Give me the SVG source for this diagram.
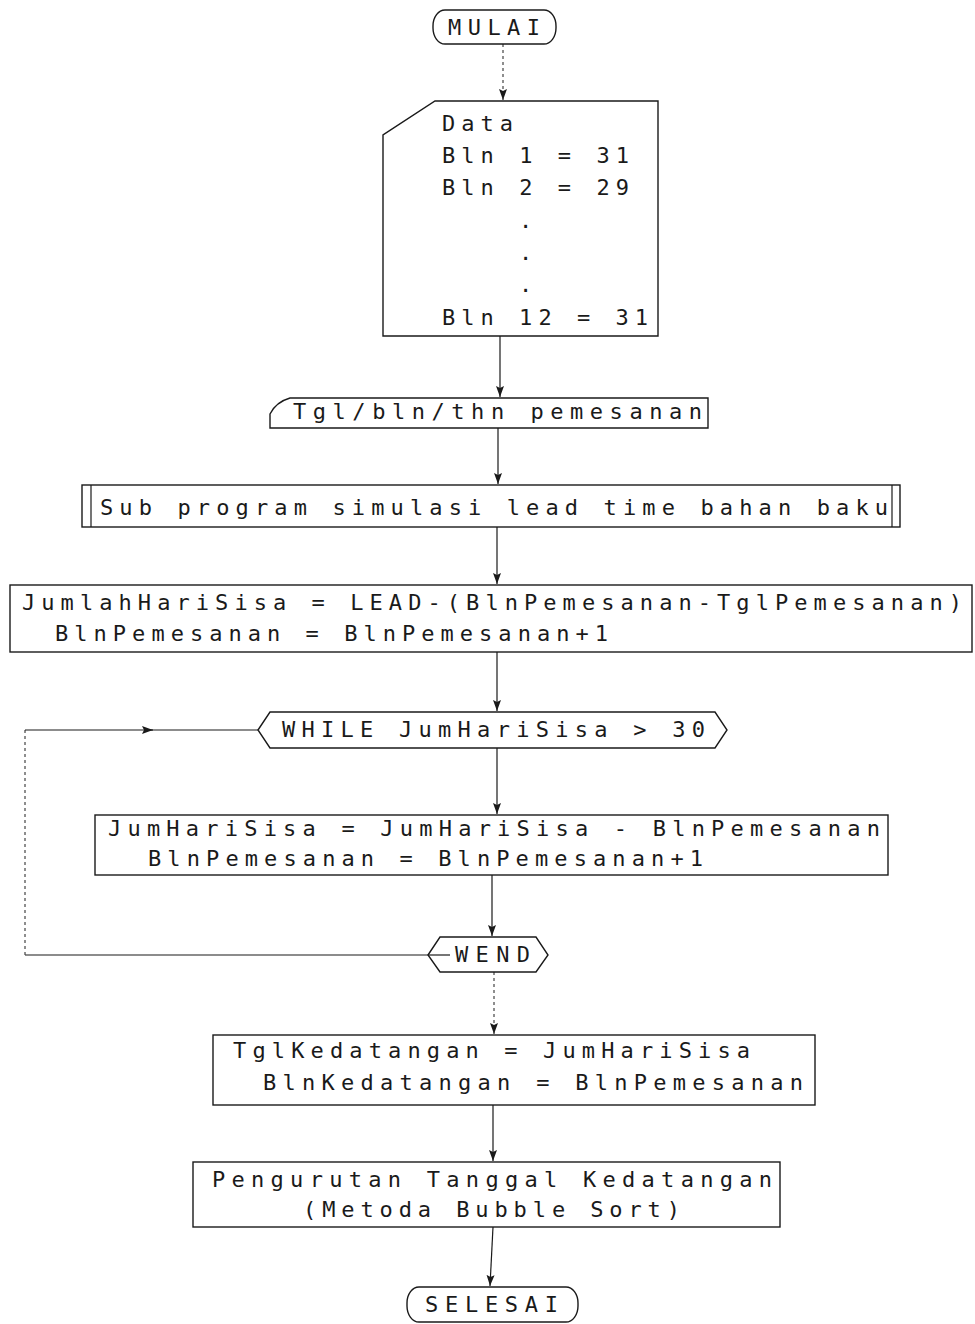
<svg xmlns="http://www.w3.org/2000/svg" width="975" height="1324" viewBox="0 0 975 1324">
  <style>
    .shape { fill: #fff; stroke: #1a1a1a; stroke-width: 1.4; }
    .t { font-family: "DejaVu Sans Mono", "Liberation Mono", monospace; font-size: 22px; fill: #1a1a1a; }
    .link { fill: none; stroke: #1a1a1a; stroke-width: 1.2; }
    .faint { stroke-dasharray: 3 3; stroke: #444; }
  </style>
  <defs>
    <!-- arrowhead drawn along +x; orient="auto" turns it to the path direction -->
    <marker id="arrow" markerUnits="userSpaceOnUse" markerWidth="12" markerHeight="10" refX="11" refY="5" orient="auto" viewBox="0 0 12 10">
      <path d="M0,1 L11,5 L0,9 L2,5 Z" fill="#1a1a1a"/>
    </marker>
  </defs>
  <rect width="975" height="1324" fill="#fff"/>

  <!-- connectors -->
  <g id="connectors">
    <path class="link faint" d="M503,44 V100" marker-end="url(#arrow)"/>
    <path class="link" d="M500,336 V397" marker-end="url(#arrow)"/>
    <path class="link" d="M498,428 V484" marker-end="url(#arrow)"/>
    <path class="link" d="M497,527 V584" marker-end="url(#arrow)"/>
    <path class="link" d="M497,652 V711" marker-end="url(#arrow)"/>
    <path class="link" d="M497,748 V814" marker-end="url(#arrow)"/>
    <path class="link" d="M492,875 V936" marker-end="url(#arrow)"/>
    <path class="link faint" d="M494,972 V1034" marker-end="url(#arrow)"/>
    <path class="link" d="M493,1105 V1161" marker-end="url(#arrow)"/>
    <path class="link" d="M493,1227 L490,1286" marker-end="url(#arrow)"/>
    <!-- loop back from WEND to WHILE -->
    <path class="link" d="M428,955 H25"/>
    <path class="link faint" d="M25,955 V730"/>
    <path class="link" d="M25,730 H153" marker-end="url(#arrow)"/>
    <path class="link" d="M150,730 H258"/>
  </g>

  <!-- start -->
  <g id="mulai">
    <rect class="shape" x="433" y="10" width="123" height="34" rx="12" ry="16"/>
    <text class="t" x="448" y="35" textLength="92" lengthAdjust="spacing">MULAI</text>
  </g>

  <!-- month data card -->
  <g id="data">
    <path class="shape" d="M435,101 H658 V336 H383 V135 Z"/>
    <text class="t" x="442" y="131" textLength="71" lengthAdjust="spacing">Data</text>
    <text class="t" x="442" y="163" textLength="187" lengthAdjust="spacing">Bln 1 = 31</text>
    <text class="t" x="442" y="195" textLength="187" lengthAdjust="spacing">Bln 2 = 29</text>
    <text class="t" x="519" y="228">.</text>
    <text class="t" x="519" y="260">.</text>
    <text class="t" x="519" y="292">.</text>
    <text class="t" x="442" y="325" textLength="206" lengthAdjust="spacing">Bln 12 = 31</text>
  </g>

  <!-- order date input -->
  <g id="input">
    <path class="shape" d="M290,398 H708 V428 H270 V414 Q276,402 290,398 Z"/>
    <text class="t" x="293" y="419" textLength="409" lengthAdjust="spacing">Tgl/bln/thn pemesanan</text>
  </g>

  <!-- predefined sub program -->
  <g id="subprogram">
    <rect class="shape" x="82" y="485" width="818" height="42"/>
    <line class="link" x1="91" y1="485" x2="91" y2="527"/>
    <line class="link" x1="892" y1="485" x2="892" y2="527"/>
    <text class="t" x="100" y="515" textLength="788" lengthAdjust="spacing">Sub program simulasi lead time bahan baku</text>
  </g>

  <!-- remaining days -->
  <g id="jumlah">
    <rect class="shape" x="10" y="585" width="962" height="67"/>
    <text class="t" x="22" y="610" textLength="940" lengthAdjust="spacing">JumlahHariSisa = LEAD-(BlnPemesanan-TglPemesanan)</text>
    <text class="t" x="55" y="641" textLength="553" lengthAdjust="spacing">BlnPemesanan = BlnPemesanan+1</text>
  </g>

  <!-- loop head -->
  <g id="while">
    <path class="shape" d="M258,730 L270,712 H715 L727,730 L715,748 H270 Z"/>
    <text class="t" x="282" y="737" textLength="423" lengthAdjust="spacing">WHILE JumHariSisa &gt; 30</text>
  </g>

  <!-- loop body -->
  <g id="body">
    <rect class="shape" x="95" y="815" width="793" height="60"/>
    <text class="t" x="108" y="836" textLength="772" lengthAdjust="spacing">JumHariSisa = JumHariSisa - BlnPemesanan</text>
    <text class="t" x="148" y="866" textLength="555" lengthAdjust="spacing">BlnPemesanan = BlnPemesanan+1</text>
  </g>

  <!-- loop end -->
  <g id="wend">
    <path class="shape" d="M428,955 L440,937 H536 L548,955 L536,972 H440 Z"/>
    <line class="link" x1="428" y1="955" x2="450" y2="955"/>
    <text class="t" x="455" y="962" textLength="75" lengthAdjust="spacing">WEND</text>
  </g>

  <!-- arrival date -->
  <g id="kedatangan">
    <rect class="shape" x="213" y="1035" width="602" height="70"/>
    <text class="t" x="233" y="1058" textLength="517" lengthAdjust="spacing">TglKedatangan = JumHariSisa</text>
    <text class="t" x="263" y="1090" textLength="540" lengthAdjust="spacing">BlnKedatangan = BlnPemesanan</text>
  </g>

  <!-- sorting -->
  <g id="sort">
    <rect class="shape" x="193" y="1162" width="587" height="65"/>
    <text class="t" x="212" y="1187" textLength="560" lengthAdjust="spacing">Pengurutan Tanggal Kedatangan</text>
    <text class="t" x="303" y="1217" textLength="377" lengthAdjust="spacing">(Metoda Bubble Sort)</text>
  </g>

  <!-- end -->
  <g id="selesai">
    <rect class="shape" x="407" y="1287" width="171" height="35" rx="12" ry="16"/>
    <text class="t" x="425" y="1312" textLength="133" lengthAdjust="spacing">SELESAI</text>
  </g>
</svg>
